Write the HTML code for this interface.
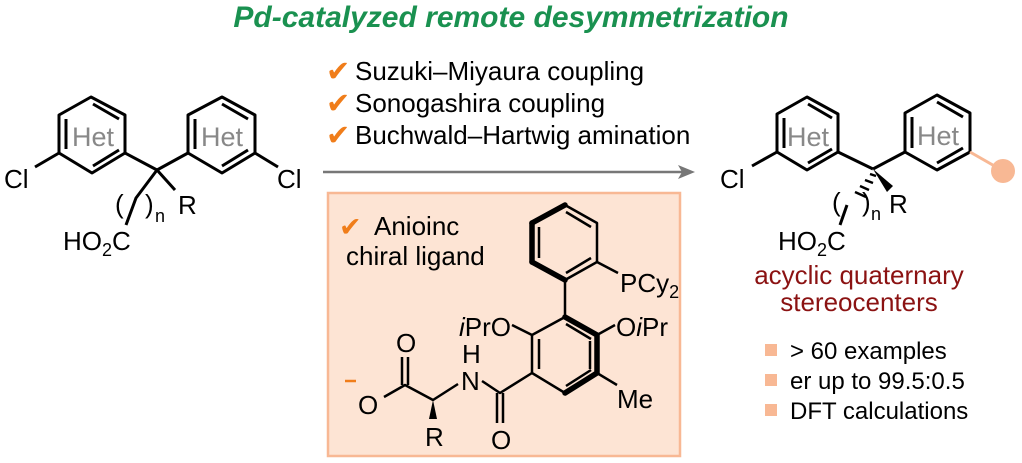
<!DOCTYPE html>
<html><head><meta charset="utf-8"><style>
html,body{margin:0;padding:0;background:#fff;}
svg{display:block;font-family:"Liberation Sans",Arial,sans-serif;}
</style></head><body>
<svg width="1022" height="463" viewBox="0 0 1022 463" xmlns="http://www.w3.org/2000/svg">
<text x="511" y="27" text-anchor="middle" font-size="30" font-weight="bold" font-style="italic" fill="#1a9150">Pd-catalyzed remote desymmetrization</text>
<g font-size="26" fill="#000">
<text x="326" y="81" fill="#f07d1a" font-size="29">✔</text><text x="355" y="80">Suzuki–Miyaura coupling</text>
<text x="326" y="113" fill="#f07d1a" font-size="29">✔</text><text x="355" y="112">Sonogashira coupling</text>
<text x="326" y="145" fill="#f07d1a" font-size="29">✔</text><text x="355" y="144">Buchwald–Hartwig amination</text>
</g>
<line x1="323" y1="172" x2="685" y2="172" stroke="#777" stroke-width="2.5"/>
<polygon points="695,172 678,165 682,172 678,179" fill="#777"/>
<rect x="328" y="193" width="352" height="263" fill="#fde4d4" stroke="#f8b894" stroke-width="2.5"/>

<g stroke="#000" stroke-width="3" fill="none" stroke-linejoin="round">
<polygon points="91,97 125,115 125,153 92,173 59,153 59,115"/>
<line x1="66" y1="119" x2="66" y2="149"/><line x1="93" y1="104" x2="119" y2="119"/><line x1="93" y1="166" x2="119" y2="150"/>
<polygon points="222,97 255,115 255,153 222,173 188,153 188,115"/>
<line x1="195" y1="119" x2="195" y2="149"/><line x1="222" y1="104" x2="248" y2="119"/><line x1="222" y1="166" x2="248" y2="150"/>
<line x1="125" y1="153" x2="157" y2="170"/><line x1="188" y1="153" x2="157" y2="170"/>
<line x1="59" y1="153" x2="35" y2="167"/><line x1="255" y1="153" x2="278" y2="167"/>
<polyline points="157,170 136,198 126,225"/><line x1="157" y1="170" x2="175" y2="190"/>
<polygon points="807,97 838,114 838,152 807,170 777,152 777,114"/>
<line x1="784" y1="118" x2="784" y2="148"/><line x1="808" y1="104" x2="832" y2="118"/><line x1="808" y1="163" x2="832" y2="149"/>
<polygon points="937,95 970,113 970,152 937,170 905,152 905,113"/>
<line x1="912" y1="117" x2="912" y2="148"/><line x1="937" y1="102" x2="963" y2="117"/><line x1="937" y1="163" x2="963" y2="148"/>
<line x1="838" y1="152" x2="873" y2="169"/><line x1="905" y1="152" x2="873" y2="169"/>
<line x1="777" y1="152" x2="752" y2="166"/>
<line x1="847" y1="205" x2="840" y2="225"/>
</g>
<g stroke="#000" stroke-width="2.5">
<line x1="870" y1="174" x2="876" y2="176"/><line x1="865" y1="180" x2="873" y2="183"/><line x1="860" y1="186" x2="869" y2="190"/><line x1="855" y1="192" x2="866" y2="197"/>
</g>
<polygon points="873,169 887,192 893,186" fill="#000"/>
<line x1="970" y1="152" x2="998" y2="168" stroke="#f8b894" stroke-width="3"/>
<circle cx="1003" cy="171" r="12" fill="#f8b894"/>

<g font-size="26" fill="#000">
<text x="4" y="188">Cl</text><text x="277" y="188">Cl</text>
<text x="115" y="213">(</text><text x="145" y="213">)</text><text x="155" y="222" font-size="18">n</text>
<text x="178" y="214">R</text>
<text x="63" y="250">HO<tspan font-size="18" dy="6">2</tspan><tspan dy="-6">C</tspan></text>
<text x="720" y="188">Cl</text>
<text x="832" y="211">(</text><text x="862" y="211">)</text><text x="871" y="220" font-size="18">n</text>
<text x="889" y="213">R</text>
<text x="778" y="250">HO<tspan font-size="18" dy="6">2</tspan><tspan dy="-6">C</tspan></text>
</g>
<g font-size="27" fill="#888" text-anchor="middle">
<text x="93" y="146">Het</text><text x="222" y="146">Het</text>
<text x="808" y="146">Het</text><text x="938" y="145">Het</text>
</g>
<g font-size="26" fill="#8b1212" text-anchor="middle">
<text x="859" y="284">acyclic quaternary</text><text x="859" y="311">stereocenters</text>
</g>
<g font-size="24" fill="#000">
<rect x="765" y="344" width="12" height="12" fill="#f8b894"/><text x="790" y="359">&gt; 60 examples</text>
<rect x="765" y="374" width="12" height="12" fill="#f8b894"/><text x="790" y="389">er up to 99.5:0.5</text>
<rect x="765" y="404" width="12" height="12" fill="#f8b894"/><text x="790" y="419">DFT calculations</text>
</g>

<g font-size="26" fill="#000">
<text x="339" y="236" fill="#f07d1a" font-size="27">✔</text><text x="374" y="235">Anioinc</text>
<text x="346" y="265">chiral ligand</text>
</g>
<g stroke="#000" stroke-width="2.5" fill="none" stroke-linejoin="round">
<polygon points="565,205 597,223 597,262 565,280 532,262 532,223"/>
<line x1="539" y1="227" x2="539" y2="258"/><line x1="566" y1="212" x2="591" y2="227"/><line x1="566" y1="273" x2="591" y2="258"/>
<polygon points="565,317 597,335 597,373 565,393 532,373 532,335"/>
<line x1="539" y1="339" x2="539" y2="369"/><line x1="566" y1="324" x2="591" y2="339"/><line x1="590" y1="341" x2="590" y2="369"/><line x1="566" y1="386" x2="591" y2="370"/>
<line x1="565" y1="280" x2="565" y2="317"/>
<line x1="597" y1="262" x2="618" y2="273"/>
<line x1="597" y1="335" x2="615" y2="325"/><line x1="532" y1="335" x2="512" y2="325"/>
<line x1="597" y1="373" x2="617" y2="385"/>
<polyline points="532,373 500,393 482,381"/>
<line x1="497" y1="393" x2="497" y2="423"/><line x1="503" y1="393" x2="503" y2="423"/>
<polyline points="458,384 433,400 405,385 384,397"/>
<line x1="402" y1="385" x2="402" y2="357"/><line x1="408" y1="385" x2="408" y2="357"/>
</g>
<g stroke="#000" stroke-width="5.5" fill="none" stroke-linecap="round">
<line x1="532" y1="223" x2="565" y2="205"/><line x1="532" y1="223" x2="532" y2="262"/><line x1="532" y1="262" x2="565" y2="280"/>
<polyline points="565,317 597,335 597,373 565,393"/>
</g>
<polygon points="433,400 429,419 437,419" fill="#000"/>
<g font-size="26" fill="#000">
<text x="620" y="292">PCy<tspan font-size="18" dy="6">2</tspan></text>
<text x="616" y="336">O<tspan font-style="italic">i</tspan>Pr</text>
<text x="511" y="336" text-anchor="end"><tspan font-style="italic">i</tspan>PrO</text>
<text x="617" y="408">Me</text>
<text x="461" y="390">N</text><text x="462" y="363">H</text>
<text x="491" y="449">O</text>
<text x="396" y="352">O</text>
<text x="358" y="414">O</text>
<text x="425" y="446">R</text>
</g>
<line x1="345" y1="381" x2="356" y2="381" stroke="#f07d1a" stroke-width="2.5"/>
</svg>
</body></html>
